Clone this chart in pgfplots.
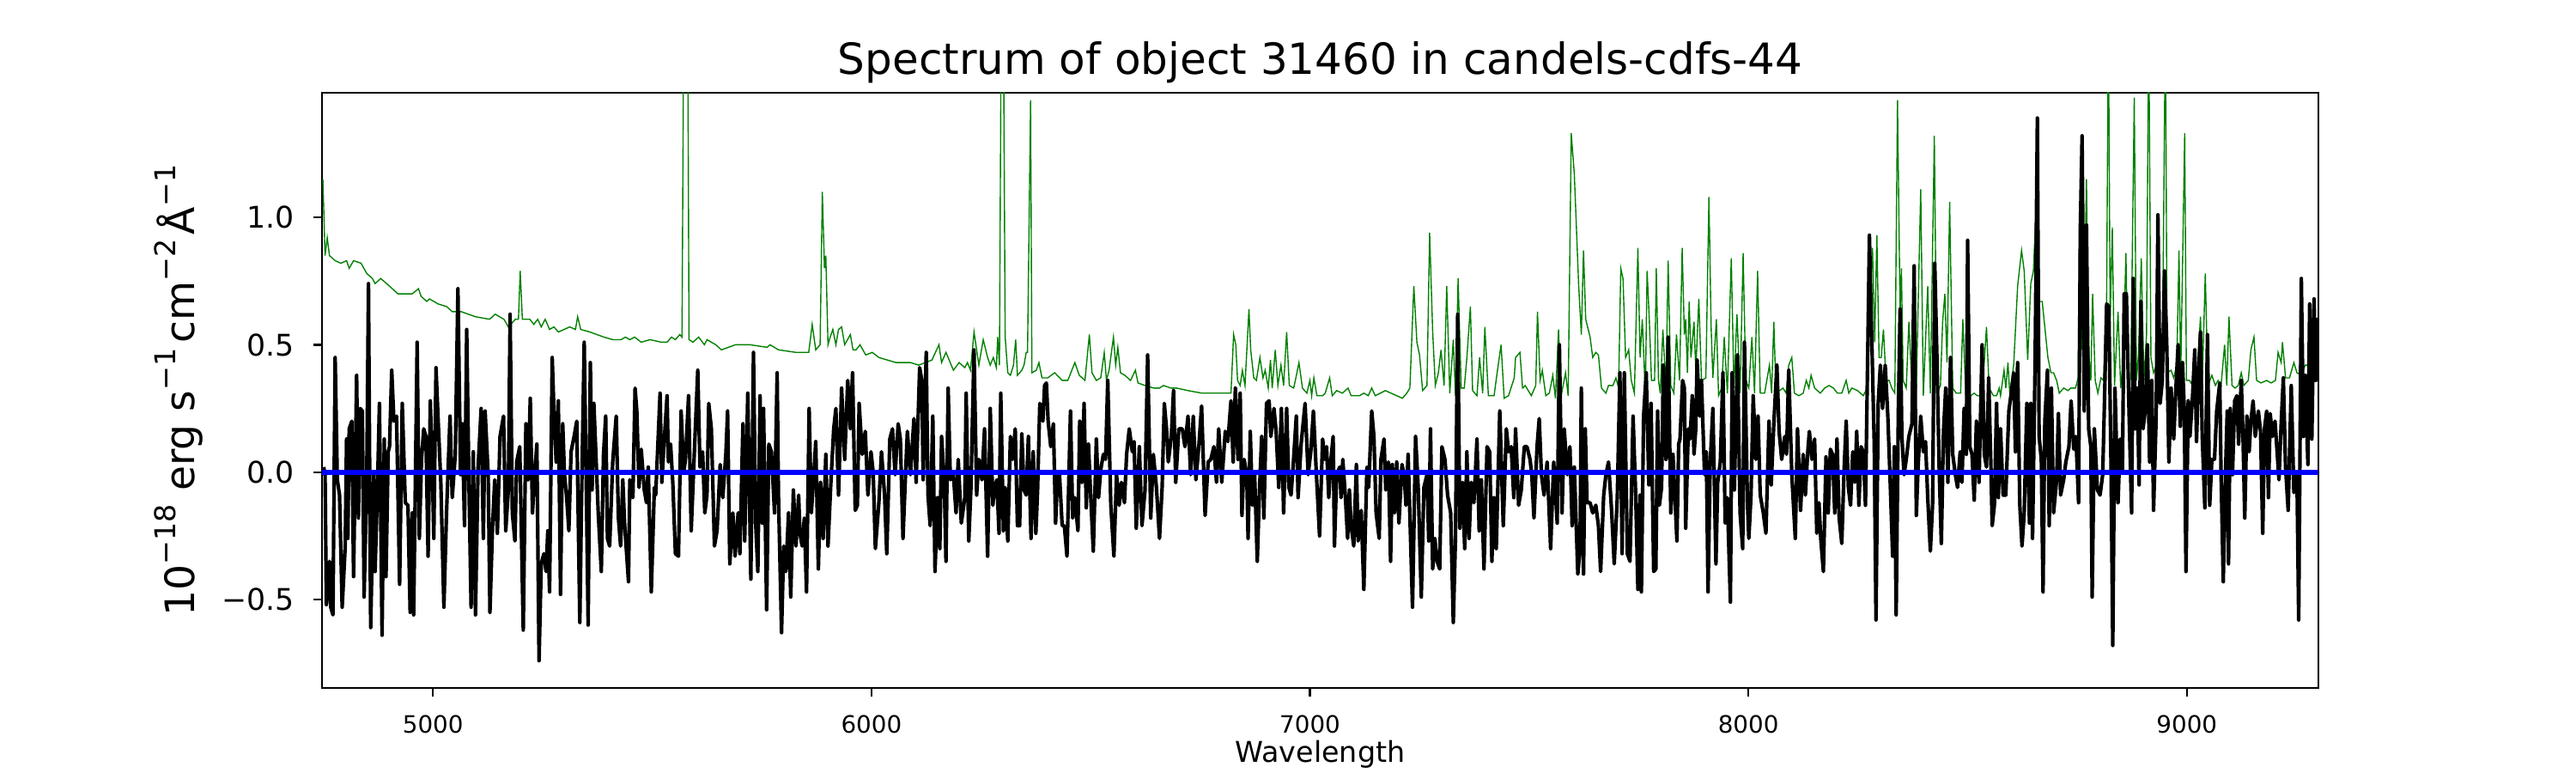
\documentclass[border=0pt]{standalone}
\usepackage{fontspec}
\setmainfont{DejaVu Sans}
\usepackage{pgfplots}
\pgfplotsset{compat=1.18}
\usepackage{pgfplotstable}
\definecolor{mplgreen}{HTML}{008000}
\definecolor{mplblue}{HTML}{0000FF}
\newcommand{\sups}[1]{\raisebox{0.45em}{\fontsize{12bp}{12bp}\selectfont #1}}

\pgfplotstableread{
x y
4749 1.15
4754 0.85
4759 0.92
4764 0.85
4777 0.83
4790 0.82
4803 0.83
4809 0.80
4819 0.83
4836 0.82
4849 0.78
4862 0.76
4868 0.74
4881 0.76
4901 0.73
4920 0.70
4933 0.70
4953 0.70
4967 0.72
4973 0.69
4986 0.67
4992 0.68
5012 0.66
5031 0.65
5044 0.63
5064 0.63
5097 0.61
5129 0.60
5142 0.62
5162 0.60
5172 0.57
5188 0.60
5195 0.60
5199 0.79
5204 0.60
5221 0.60
5230 0.58
5239 0.60
5247 0.57
5256 0.60
5266 0.56
5276 0.57
5286 0.55
5312 0.57
5325 0.56
5330 0.61
5337 0.56
5358 0.55
5390 0.53
5410 0.52
5429 0.52
5439 0.53
5449 0.52
5460 0.53
5475 0.51
5495 0.52
5521 0.51
5534 0.51
5544 0.53
5553 0.52
5563 0.54
5568 0.53
5572 1.80
5576 1.80
5581 1.80
5584 0.52
5593 0.51
5606 0.53
5619 0.50
5625 0.52
5645 0.50
5658 0.48
5690 0.50
5723 0.50
5762 0.49
5769 0.50
5788 0.48
5828 0.47
5857 0.47
5865 0.58
5873 0.48
5883 0.50
5888 1.10
5893 0.80
5896 0.85
5901 0.50
5906 0.53
5912 0.56
5919 0.50
5925 0.56
5932 0.57
5939 0.50
5952 0.54
5958 0.48
5965 0.48
5974 0.50
5987 0.46
6002 0.47
6017 0.45
6056 0.43
6089 0.43
6108 0.42
6138 0.44
6154 0.50
6160 0.43
6170 0.47
6187 0.40
6200 0.43
6213 0.41
6219 0.43
6226 0.40
6234 0.55
6245 0.42
6255 0.52
6265 0.45
6271 0.42
6278 0.45
6285 0.41
6288 0.53
6292 0.42
6296 1.80
6301 1.80
6305 0.53
6311 0.39
6317 0.38
6324 0.42
6329 0.52
6333 0.38
6343 0.40
6348 0.42
6353 0.47
6356 0.47
6363 1.46
6366 0.39
6376 0.40
6382 0.43
6389 0.37
6402 0.37
6418 0.39
6435 0.36
6448 0.36
6457 0.40
6464 0.43
6474 0.38
6487 0.36
6497 0.54
6503 0.39
6513 0.36
6523 0.37
6531 0.47
6536 0.36
6542 0.40
6552 0.53
6557 0.42
6562 0.49
6568 0.39
6578 0.38
6591 0.36
6602 0.40
6608 0.35
6624 0.34
6644 0.33
6657 0.33
6666 0.34
6683 0.33
6696 0.33
6722 0.32
6754 0.31
6787 0.31
6820 0.31
6826 0.54
6831 0.50
6835 0.36
6841 0.34
6846 0.40
6852 0.34
6861 0.64
6865 0.48
6872 0.37
6878 0.36
6886 0.45
6893 0.37
6898 0.40
6905 0.33
6910 0.44
6914 0.33
6921 0.48
6927 0.34
6934 0.42
6940 0.34
6947 0.55
6953 0.34
6963 0.33
6968 0.37
6975 0.43
6983 0.33
6993 0.31
7000 0.36
7004 0.30
7009 0.37
7016 0.30
7029 0.30
7035 0.31
7045 0.37
7051 0.30
7061 0.32
7074 0.31
7087 0.33
7094 0.30
7113 0.30
7123 0.31
7133 0.30
7141 0.33
7149 0.30
7172 0.32
7185 0.31
7198 0.30
7211 0.29
7221 0.31
7228 0.33
7237 0.73
7244 0.51
7250 0.46
7257 0.32
7267 0.34
7273 0.94
7280 0.55
7286 0.34
7293 0.39
7299 0.48
7306 0.34
7312 0.73
7319 0.31
7327 0.52
7332 0.30
7338 0.76
7345 0.33
7352 0.33
7358 0.45
7366 0.65
7371 0.32
7381 0.30
7387 0.45
7394 0.31
7399 0.57
7407 0.30
7420 0.30
7427 0.39
7436 0.50
7443 0.29
7453 0.30
7466 0.37
7469 0.45
7479 0.47
7485 0.33
7491 0.34
7505 0.30
7515 0.34
7519 0.63
7525 0.36
7530 0.40
7538 0.30
7546 0.31
7554 0.38
7560 0.29
7567 0.56
7573 0.30
7583 0.39
7589 0.30
7596 1.33
7603 1.17
7613 0.73
7619 0.54
7624 0.87
7629 0.60
7639 0.53
7645 0.45
7652 0.47
7658 0.46
7665 0.33
7675 0.31
7681 0.34
7691 0.34
7698 0.37
7704 0.33
7709 0.80
7714 0.76
7720 0.45
7727 0.48
7733 0.36
7740 0.31
7748 0.88
7753 0.45
7758 0.60
7765 0.31
7769 0.79
7774 0.60
7779 0.36
7786 0.36
7790 0.80
7795 0.36
7799 0.31
7805 0.56
7812 0.33
7817 0.83
7823 0.34
7830 0.31
7836 0.54
7843 0.36
7849 0.88
7854 0.54
7857 0.60
7861 0.39
7865 0.67
7869 0.45
7876 0.59
7880 0.40
7887 0.68
7893 0.36
7903 0.37
7910 1.08
7915 0.57
7919 0.37
7927 0.60
7932 0.30
7939 0.33
7945 0.53
7952 0.31
7961 0.84
7967 0.33
7974 0.62
7981 0.31
7988 0.86
7994 0.36
8001 0.33
8008 0.53
8014 0.31
8021 0.79
8027 0.31
8037 0.31
8048 0.42
8053 0.31
8058 0.59
8063 0.31
8079 0.33
8086 0.31
8092 0.42
8099 0.45
8105 0.31
8115 0.30
8125 0.31
8132 0.36
8138 0.33
8143 0.38
8151 0.33
8164 0.31
8174 0.33
8184 0.34
8194 0.33
8203 0.31
8213 0.31
8223 0.36
8229 0.31
8236 0.33
8249 0.32
8262 0.30
8271 0.33
8276 0.63
8283 0.88
8288 0.51
8293 0.93
8298 0.45
8303 0.45
8308 0.56
8314 0.36
8321 0.36
8327 0.33
8334 0.31
8340 1.46
8346 0.62
8349 0.80
8353 0.36
8360 0.33
8366 0.59
8373 0.34
8378 0.47
8383 0.33
8393 1.11
8399 0.30
8409 0.73
8415 0.31
8424 1.32
8430 0.31
8438 0.34
8443 0.59
8448 0.70
8453 0.43
8459 1.06
8466 0.33
8474 0.31
8484 0.31
8489 0.60
8496 0.30
8507 0.30
8515 0.31
8522 0.30
8533 0.30
8543 0.57
8549 0.33
8559 0.30
8566 0.30
8572 0.33
8575 0.30
8583 0.40
8587 0.33
8592 0.43
8596 0.31
8605 0.42
8614 0.73
8623 0.87
8629 0.79
8637 0.44
8644 0.74
8650 0.79
8655 0.99
8663 0.67
8670 0.67
8676 0.57
8683 0.45
8690 0.39
8696 0.39
8703 0.36
8709 0.31
8719 0.33
8729 0.32
8735 0.33
8746 0.33
8752 0.37
8755 0.96
8761 0.48
8766 0.67
8771 1.15
8776 0.47
8781 0.36
8785 0.70
8791 0.36
8797 0.31
8804 0.37
8810 0.36
8817 0.67
8821 1.80
8825 0.60
8830 0.96
8835 0.34
8843 0.63
8849 0.33
8855 0.45
8861 0.86
8866 0.34
8872 0.37
8880 1.47
8885 0.36
8890 0.47
8896 0.84
8902 0.36
8908 0.54
8913 1.80
8918 0.45
8924 0.39
8931 0.42
8938 0.36
8944 0.39
8951 1.80
8955 0.39
8964 0.40
8970 0.37
8977 0.42
8982 0.87
8986 0.38
8995 1.33
8999 0.36
9006 0.36
9013 0.34
9022 0.34
9031 0.61
9035 0.34
9042 0.78
9048 0.34
9057 0.38
9065 0.34
9071 0.36
9078 0.34
9086 0.50
9091 0.34
9096 0.61
9103 0.34
9110 0.33
9117 0.34
9124 0.39
9130 0.34
9140 0.36
9146 0.48
9153 0.53
9159 0.36
9169 0.35
9182 0.36
9192 0.35
9202 0.36
9208 0.47
9215 0.43
9218 0.51
9225 0.37
9234 0.37
9244 0.43
9251 0.39
9261 0.38
9270 0.42
9277 0.42
9287 0.40
9297 0.40
}\modeltab

\pgfplotstableread{
x y
4751 0.02
4754 -0.01
4757 -0.52
4764 -0.35
4767 -0.53
4772 -0.56
4777 0.45
4782 -0.03
4787 -0.09
4793 -0.53
4800 -0.29
4803 0.13
4806 -0.26
4809 0.17
4815 0.20
4819 -0.41
4826 0.38
4830 -0.18
4834 0.25
4839 0.24
4843 -0.49
4849 -0.03
4853 0.74
4858 -0.61
4865 -0.01
4868 -0.39
4873 -0.10
4878 0.27
4884 -0.64
4889 0.13
4893 -0.41
4898 0.08
4901 0.10
4906 0.40
4911 0.20
4917 0.22
4924 -0.44
4930 0.27
4937 -0.12
4943 -0.13
4948 -0.55
4953 -0.16
4956 -0.56
4964 0.51
4969 -0.26
4974 0.05
4979 0.17
4984 0.14
4989 -0.33
4994 0.28
4999 -0.01
5002 -0.26
5007 0.41
5012 0.20
5018 -0.04
5025 -0.53
5031 -0.16
5039 0.22
5044 -0.10
5051 0.07
5057 0.72
5063 -0.01
5067 0.19
5072 -0.21
5077 0.56
5082 -0.03
5087 -0.53
5092 0.08
5097 -0.56
5103 0.02
5110 0.25
5115 -0.26
5119 0.24
5126 -0.01
5130 -0.55
5136 -0.21
5141 -0.03
5147 -0.24
5153 0.14
5161 0.22
5166 -0.23
5172 -0.07
5176 0.62
5181 -0.16
5187 -0.27
5191 0.04
5198 0.10
5206 -0.62
5212 0.19
5217 -0.03
5222 0.29
5227 -0.16
5232 -0.01
5237 0.11
5242 -0.74
5247 -0.36
5253 -0.32
5258 -0.39
5262 -0.23
5266 -0.47
5272 0.45
5276 0.24
5281 0.04
5286 0.28
5291 -0.48
5296 0.19
5300 -0.01
5305 -0.10
5310 -0.23
5315 0.08
5322 0.14
5328 0.20
5335 -0.59
5339 -0.10
5345 0.51
5350 -0.09
5354 -0.60
5359 0.43
5363 -0.07
5367 0.27
5374 -0.03
5377 -0.16
5384 -0.39
5389 0.07
5394 0.22
5398 -0.26
5403 -0.29
5410 0.04
5418 0.22
5423 -0.18
5428 -0.29
5433 -0.03
5437 -0.20
5446 -0.43
5449 -0.03
5456 -0.10
5461 0.33
5465 0.24
5470 -0.06
5475 0.09
5482 -0.07
5487 -0.12
5491 0.02
5498 -0.47
5505 -0.06
5508 -0.09
5518 0.31
5522 -0.04
5527 0.11
5534 0.30
5537 0.04
5542 0.11
5547 -0.04
5553 -0.32
5560 -0.33
5566 0.24
5572 0.00
5576 0.05
5583 0.30
5589 -0.23
5596 0.07
5604 0.40
5609 0.02
5615 0.08
5620 -0.16
5625 -0.09
5629 0.27
5635 0.17
5642 -0.29
5648 -0.23
5655 0.03
5661 -0.10
5668 0.07
5672 0.24
5677 -0.36
5684 -0.16
5689 -0.33
5696 -0.16
5700 -0.32
5707 0.19
5711 -0.27
5718 0.31
5725 -0.42
5731 0.47
5736 -0.20
5741 -0.39
5746 0.30
5751 -0.20
5754 0.25
5761 -0.54
5766 0.11
5772 0.08
5779 -0.16
5785 0.39
5788 -0.09
5795 -0.63
5800 -0.29
5805 -0.39
5811 -0.16
5816 -0.49
5822 -0.07
5828 -0.29
5834 -0.09
5837 -0.24
5842 -0.29
5847 -0.18
5852 -0.47
5858 0.25
5863 -0.16
5868 -0.03
5873 0.12
5879 -0.38
5884 -0.04
5890 -0.26
5896 0.07
5901 -0.29
5907 -0.06
5914 0.17
5919 0.25
5925 -0.09
5932 0.33
5939 0.05
5946 0.36
5952 0.17
5957 0.39
5963 -0.15
5968 -0.13
5972 0.27
5979 0.07
5986 0.16
5992 -0.09
5999 0.08
6004 0.00
6009 -0.30
6017 -0.12
6023 0.08
6030 -0.09
6035 -0.32
6042 0.13
6048 0.17
6054 -0.01
6061 0.19
6066 0.13
6072 -0.26
6078 0.00
6082 0.16
6089 -0.01
6097 0.21
6102 -0.04
6110 0.41
6115 0.36
6118 -0.03
6125 0.47
6129 -0.09
6134 -0.21
6140 0.22
6145 -0.39
6151 -0.10
6156 -0.30
6160 0.14
6166 -0.03
6170 -0.35
6175 0.33
6180 -0.03
6187 -0.01
6193 -0.16
6198 0.05
6205 -0.20
6213 -0.10
6216 0.31
6222 -0.27
6227 -0.06
6234 0.48
6240 -0.09
6245 0.05
6252 -0.03
6258 0.17
6265 -0.33
6271 0.25
6277 -0.13
6281 -0.06
6286 -0.03
6291 -0.24
6295 0.31
6301 -0.23
6305 -0.06
6311 -0.27
6317 0.14
6322 0.05
6328 0.17
6333 -0.21
6338 -0.21
6343 0.15
6348 -0.07
6353 -0.09
6358 0.14
6364 -0.26
6369 0.08
6375 -0.24
6379 -0.07
6384 0.27
6391 0.20
6395 0.34
6399 0.35
6403 0.20
6409 0.10
6415 0.19
6420 -0.20
6425 0.00
6429 -0.01
6435 -0.21
6440 -0.21
6446 -0.33
6454 0.24
6459 -0.18
6464 -0.10
6471 -0.23
6475 0.20
6480 -0.04
6485 0.27
6490 -0.14
6495 0.11
6500 -0.09
6506 -0.31
6513 0.13
6518 -0.10
6523 0.01
6529 0.07
6534 0.05
6539 0.36
6546 -0.13
6553 -0.33
6559 -0.01
6565 -0.13
6570 -0.04
6577 -0.12
6582 0.07
6588 0.17
6595 0.08
6599 0.12
6604 -0.22
6611 0.10
6617 -0.21
6624 -0.07
6630 0.46
6637 -0.18
6643 0.07
6650 -0.06
6657 -0.26
6663 -0.06
6668 0.27
6673 0.17
6677 0.04
6684 0.14
6689 0.32
6694 -0.04
6701 0.17
6709 0.17
6715 0.10
6722 0.22
6728 -0.01
6734 0.22
6740 -0.03
6747 0.11
6753 0.26
6761 -0.17
6768 0.04
6774 0.05
6781 0.10
6787 -0.04
6792 0.17
6799 -0.04
6807 0.16
6813 0.12
6820 0.28
6825 0.04
6830 0.33
6836 0.05
6841 0.31
6845 -0.17
6850 0.05
6856 -0.01
6859 -0.26
6864 0.16
6869 -0.13
6874 -0.01
6880 -0.35
6885 -0.07
6890 0.14
6895 -0.18
6901 0.27
6907 0.28
6911 0.14
6918 0.25
6923 0.16
6929 -0.06
6935 0.25
6940 -0.16
6947 0.25
6952 -0.06
6957 -0.09
6962 0.03
6969 0.22
6973 -0.10
6980 0.11
6989 0.27
6996 -0.01
7002 0.08
7008 0.24
7014 0.02
7022 -0.25
7029 0.13
7034 0.05
7038 0.10
7043 -0.10
7048 0.05
7053 0.14
7056 -0.29
7061 -0.01
7068 0.02
7071 -0.10
7075 0.05
7081 -0.10
7086 -0.26
7090 -0.07
7094 -0.21
7100 -0.29
7106 0.03
7110 -0.27
7117 -0.15
7123 -0.46
7130 0.02
7134 -0.06
7141 0.24
7146 0.14
7151 -0.16
7158 -0.26
7162 0.05
7169 0.13
7173 -0.07
7179 0.04
7184 -0.35
7188 0.03
7193 -0.16
7198 0.04
7203 -0.20
7210 0.03
7215 -0.01
7219 -0.13
7224 0.07
7234 -0.53
7241 0.14
7247 -0.06
7254 -0.49
7260 -0.06
7267 -0.01
7271 -0.27
7275 0.17
7280 -0.38
7285 -0.26
7290 -0.35
7296 -0.38
7301 0.10
7308 0.05
7314 -0.09
7321 -0.16
7327 -0.59
7332 -0.26
7337 0.62
7342 -0.22
7348 -0.04
7353 -0.30
7358 0.08
7363 -0.26
7368 -0.04
7374 -0.12
7381 0.13
7386 -0.23
7391 -0.03
7397 -0.38
7404 0.10
7410 0.08
7415 -0.35
7420 -0.10
7425 -0.30
7433 0.24
7441 -0.21
7448 0.17
7453 0.08
7459 0.10
7465 -0.10
7469 0.17
7476 -0.13
7482 -0.07
7489 0.10
7495 0.10
7502 0.05
7506 -0.01
7511 -0.18
7518 0.10
7523 0.21
7528 -0.01
7534 -0.09
7541 0.04
7549 -0.30
7556 0.04
7564 -0.20
7569 0.50
7575 -0.16
7580 0.17
7587 -0.01
7593 0.10
7598 -0.21
7603 0.02
7611 -0.40
7616 -0.30
7619 0.33
7624 -0.40
7628 0.17
7632 -0.12
7639 -0.12
7645 -0.16
7652 -0.13
7658 -0.21
7663 -0.39
7670 -0.09
7675 -0.01
7681 0.04
7688 -0.15
7694 -0.36
7701 -0.10
7707 0.39
7712 -0.32
7717 0.39
7724 -0.32
7730 -0.35
7737 0.22
7743 -0.09
7748 -0.46
7753 -0.09
7756 -0.47
7761 0.22
7767 0.39
7773 -0.05
7778 0.27
7784 -0.39
7789 -0.38
7793 0.24
7797 -0.13
7802 -0.06
7806 0.42
7812 0.05
7817 0.53
7823 -0.16
7828 0.07
7837 -0.27
7841 0.11
7844 0.13
7850 0.36
7854 0.33
7857 -0.22
7863 0.17
7867 0.13
7872 0.30
7876 0.07
7880 0.17
7883 0.44
7889 0.22
7893 0.36
7900 -0.01
7904 0.08
7908 -0.47
7913 0.04
7919 0.25
7926 -0.36
7930 -0.04
7936 0.04
7942 0.39
7947 -0.20
7952 -0.10
7959 -0.51
7963 0.39
7968 -0.07
7975 0.46
7981 -0.16
7987 -0.30
7991 0.51
7998 -0.13
8001 -0.26
8006 -0.09
8011 0.30
8017 0.05
8022 0.22
8027 -0.09
8034 -0.16
8040 -0.24
8047 0.20
8052 -0.05
8058 0.19
8065 0.42
8070 0.16
8076 0.05
8083 0.14
8087 0.07
8092 0.40
8099 -0.01
8107 -0.26
8112 0.17
8119 -0.15
8125 0.07
8130 -0.09
8135 0.07
8139 0.16
8145 0.05
8151 0.13
8156 -0.24
8161 -0.12
8165 -0.26
8171 -0.39
8177 0.06
8182 -0.16
8187 0.09
8192 0.07
8197 -0.16
8202 0.13
8207 -0.18
8213 -0.28
8218 0.00
8223 0.20
8228 -0.06
8233 -0.13
8238 0.08
8243 -0.04
8247 0.16
8252 -0.13
8257 0.10
8262 0.08
8267 -0.13
8272 0.45
8276 0.93
8282 0.48
8287 0.11
8291 -0.58
8296 0.27
8301 0.42
8306 0.25
8312 0.42
8318 0.22
8324 -0.07
8329 -0.33
8333 0.10
8337 -0.56
8342 0.25
8346 0.64
8350 0.14
8355 -0.01
8360 0.05
8366 0.14
8373 0.19
8378 0.81
8383 -0.17
8387 0.02
8393 0.22
8399 0.08
8404 0.12
8409 -0.10
8415 -0.31
8420 -0.13
8425 0.82
8430 0.45
8435 0.02
8440 -0.28
8445 0.16
8450 0.33
8455 -0.04
8461 0.45
8466 0.07
8472 -0.01
8477 -0.06
8483 0.08
8487 -0.04
8492 0.25
8497 0.07
8500 0.91
8505 0.10
8510 0.07
8515 -0.11
8520 0.20
8526 -0.04
8533 0.50
8538 0.07
8543 0.02
8548 0.37
8553 0.03
8556 -0.21
8561 -0.13
8566 0.27
8570 -0.10
8575 0.17
8581 -0.09
8587 -0.09
8594 0.24
8601 0.33
8605 0.39
8609 0.08
8614 0.43
8619 -0.13
8624 -0.29
8629 -0.16
8635 0.27
8641 -0.20
8644 0.27
8648 -0.26
8654 0.45
8659 1.39
8663 0.14
8668 0.05
8672 -0.47
8676 0.20
8682 0.40
8686 -0.21
8691 0.33
8696 -0.16
8703 -0.03
8707 0.23
8712 -0.09
8719 -0.03
8724 0.04
8731 0.10
8736 0.28
8742 0.09
8747 0.14
8753 -0.12
8757 0.96
8761 1.32
8766 0.24
8771 0.97
8776 0.17
8781 0.10
8784 -0.49
8789 0.17
8796 -0.07
8802 -0.09
8808 -0.01
8812 0.27
8817 0.66
8822 0.65
8827 0.02
8831 -0.68
8836 0.33
8843 -0.12
8848 0.13
8853 0.00
8857 0.70
8862 0.70
8868 0.24
8874 -0.16
8878 0.76
8882 0.17
8887 0.33
8891 -0.05
8895 0.67
8900 0.17
8905 0.24
8910 0.50
8915 0.04
8920 0.36
8924 -0.15
8930 0.22
8934 1.01
8939 0.27
8944 0.36
8949 0.79
8954 0.51
8959 0.04
8964 0.33
8970 0.13
8975 0.33
8980 0.50
8985 0.18
8990 0.43
8994 0.25
8998 -0.39
9003 0.28
9007 0.14
9013 0.30
9018 0.48
9022 0.12
9027 0.40
9031 0.55
9035 0.14
9041 -0.14
9047 0.54
9052 -0.13
9057 0.05
9063 0.05
9068 0.24
9075 0.35
9078 -0.01
9083 -0.43
9088 -0.01
9092 0.24
9095 -0.36
9099 0.25
9104 -0.01
9109 0.28
9114 0.30
9118 0.11
9124 0.36
9128 0.14
9132 -0.18
9137 0.22
9142 0.08
9146 0.20
9151 0.28
9156 0.14
9163 0.24
9168 0.16
9173 -0.24
9177 0.17
9182 0.24
9186 -0.10
9190 0.23
9195 0.14
9201 0.20
9205 0.10
9210 -0.03
9215 0.19
9220 0.37
9225 0.02
9231 -0.15
9238 0.34
9244 -0.08
9251 -0.01
9255 -0.58
9261 0.76
9266 0.14
9270 0.38
9276 0.03
9280 0.66
9285 0.13
9290 0.68
9294 0.36
9298 0.60
9300 0.40
}\fluxtab

\begin{document}
\begin{tikzpicture}
\path[use as bounding box] (-135bp,-35.64bp) rectangle (945bp,288.36bp);
\begin{axis}[
  at={(0,0)}, anchor=south west,
  scale only axis, width=837bp, height=249.48bp,
  xmin=4747, xmax=9300, ymin=-0.847, ymax=1.489,
  axis line style={line width=0.8bp},
  xtick={5000,6000,7000,8000,9000},
  xticklabels={5000,6000,7000,8000,9000},
  ytick={-0.5,0,0.5,1},
  yticklabels={−0.5,0.0,0.5,1.0},
  tick align=outside, major tick length=3.5bp,
  every tick/.style={line width=0.8bp, black},
  xtick pos=bottom, ytick pos=left,
  minor tick num=0,
  xticklabel style={font=\fontsize{10bp}{12bp}\selectfont, anchor=base, inner sep=0pt, yshift=-15.4bp},
  yticklabel style={font=\fontsize{12.5bp}{15bp}\selectfont, anchor=east, inner sep=0pt, xshift=-8bp},
  every axis title/.style={at={(axis description cs:0.5,1)}, anchor=base, yshift=7.9bp, inner sep=0pt, font=\fontsize{18bp}{22bp}\selectfont},
  title={Spectrum of object 31460 in candels-cdfs-44},
  every axis x label/.style={at={(axis description cs:0.5,0)}, anchor=base, yshift=-31.3bp, inner sep=0pt, font=\fontsize{12bp}{14bp}\selectfont},
  xlabel={Wavelength},
  every axis y label/.style={at={([xshift=-53.6bp]axis description cs:0,0.5)}, rotate=90, anchor=base, inner sep=0pt, font=\fontsize{17bp}{20bp}\selectfont},
  ylabel={10\sups{−18} erg s\sups{−1}\hspace{0.12em}cm\sups{−2}\hspace{0.12em}Å\sups{−1}},
]
\addplot[mplgreen, line width=0.5bp] table[x=x, y=y] {\modeltab};
\addplot[black, line width=1.5bp, line join=round] table[x=x, y=y] {\fluxtab};
\addplot[mplblue, line width=2bp] coordinates {(4747,0) (9300,0)};
\end{axis}
\end{tikzpicture}
\end{document}
